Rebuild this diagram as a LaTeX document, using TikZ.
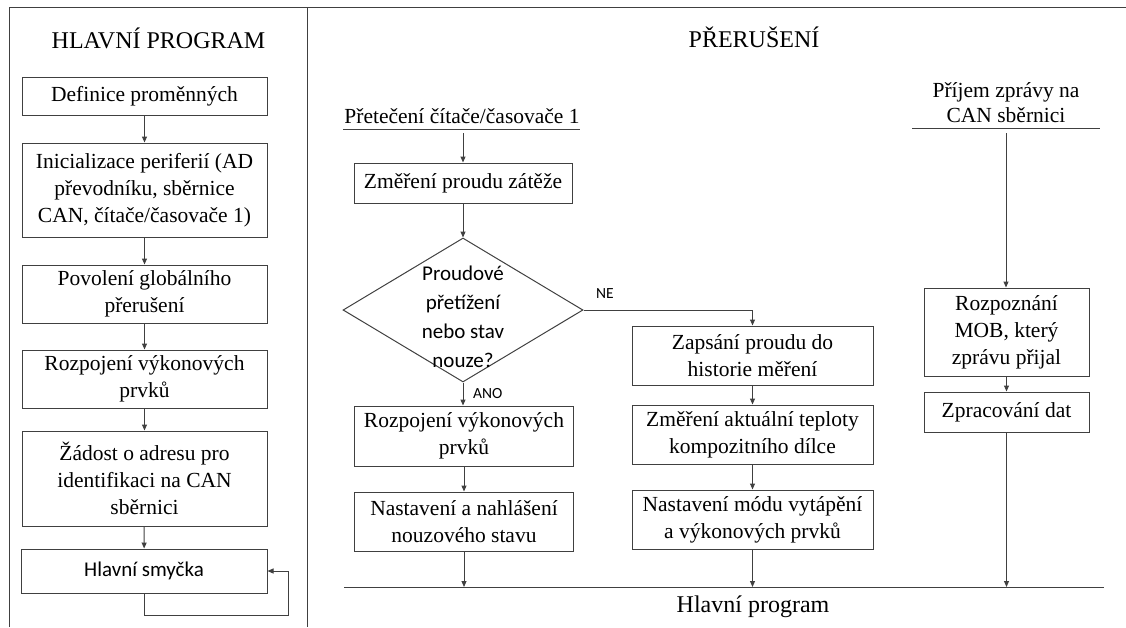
\documentclass[tikz,border=0pt]{standalone}
\usepackage{fontspec}
\setmainfont{Liberation Serif}
\newfontfamily\calib{Carlito}
\usetikzlibrary{arrows.meta,shapes.geometric}

\begin{document}
\begin{tikzpicture}[x=1pt,y=-1pt,
  ln/.style={draw=black!75, line width=1pt},
  box/.style={ln, align=center, inner sep=0pt,
    font=\fontsize{21.5}{27}\selectfont},
  cbox/.style={ln, align=center, inner sep=0pt,
    font=\calib\fontsize{21}{27}\selectfont},
  arr/.style={ln, -{Triangle[length=6pt,width=5pt]}},
  ttl/.style={anchor=base, inner sep=0pt, font=\fontsize{24}{28}\selectfont},
  capt/.style={align=center, inner sep=0pt, font=\fontsize{21.5}{25}\selectfont},
  lbl/.style={inner sep=0pt, font=\calib\fontsize{15.5}{18}\selectfont},
  dtext/.style={align=center, inner sep=0pt, font=\calib\fontsize{21}{29}\selectfont}
]
\useasboundingbox (0,0) rectangle (1126,627);

% frame of the two panels
\draw[ln] (9,627) -- (9,7) -- (1126,7);
\draw[ln] (307,7) -- (307,627);

% ---------- main program ----------
\node[ttl] (tmain) at (158.5,48) {HLAVNÍ PROGRAM};
\node[box, minimum width=245pt, minimum height=38pt] (L1) at (144.5,96) {Definice proměnných};
\node[box, minimum width=245pt, minimum height=94pt] (L2) at (144.5,190) {Inicializace periferií (AD\\převodníku, sběrnice\\CAN, čítače/časovače 1)};
\node[box, minimum width=245pt, minimum height=58pt] (L3) at (144.5,294) {Povolení globálního\\přerušení};
\node[box, minimum width=245pt, minimum height=58pt] (L4) at (144.5,379) {Rozpojení výkonových\\prvků};
\node[box, minimum width=245pt, minimum height=95pt] (L5) at (144.5,478.5) {Žádost o adresu pro\\identifikaci na CAN\\sběrnici};
\node[cbox, minimum width=246pt, minimum height=44pt] (L6) at (144,571) {Hlavní smyčka};
\coordinate (loopc) at (288,615);

\draw[arr] (L1) -- (L2);
\draw[arr] (L2) -- (L3);
\draw[arr] (L3) -- (L4);
\draw[arr] (L4) -- (L5);
\draw[arr] (L5) -- (L6);
\draw[arr] (L6.south) |- (loopc) |- (L6.east);

% ---------- interrupts ----------
\node[ttl] (tint) at (754,47) {PŘERUŠENÍ};

% timer overflow branch
\node[capt, anchor=base] (c1) at (462,123) {Přetečení čítače/časovače 1};
\coordinate (u1a) at (343,129);
\coordinate (u1b) at (580,129);
\draw[ln] (u1a) -- (u1b);
\coordinate (s1) at (463,133);
\node[box, minimum width=218pt, minimum height=40pt] (M1) at (463,183) {Změření proudu zátěže};
\node[ln, diamond, minimum width=240pt, minimum height=144pt, inner sep=0pt] (D) at (463,310) {};
\node[dtext] (Dt) at (463,317) {Proudové\\přetížení\\nebo stav\\nouze?};
\node[box, minimum width=219pt, minimum height=60pt] (R1) at (464,436) {Rozpojení výkonových\\prvků};
\node[box, minimum width=219pt, minimum height=59pt] (N1) at (464,521.5) {Nastavení a nahlášení\\nouzového stavu};

\node[box, minimum width=241pt, minimum height=59pt] (Z1) at (752.5,355.5) {Zapsání proudu do\\historie měření};
\node[box, minimum width=241pt, minimum height=59pt] (Z2) at (752.5,434.5) {Změření aktuální teploty\\kompozitního dílce};
\node[box, minimum width=241pt, minimum height=59pt] (Z3) at (752.5,519.5) {Nastavení módu vytápění\\a výkonových prvků};

\node[lbl] (ne) at (605,294) {NE};
\node[lbl, anchor=west] (ano) at (473,394) {ANO};

\draw[arr] (s1) -- (M1);
\draw[arr] (M1) -- (D.north);
\draw[arr] (D.south) -- (D.south |- R1.north);
\draw[arr] (R1) -- (N1);
\draw[arr] (D.east) -| (Z1.north);
\draw[arr] (Z1) -- (Z2);
\draw[arr] (Z2) -- (Z3);

% CAN message branch
\node[capt] (c2) at (1006,103) {Příjem zprávy na\\CAN sběrnici};
\coordinate (u2a) at (912,128);
\coordinate (u2b) at (1100,128);
\draw[ln] (u2a) -- (u2b);
\coordinate (s2) at (1006,133);
\node[box, minimum width=165pt, minimum height=88pt] (P1) at (1006.5,332) {Rozpoznání\\MOB, který\\zprávu přijal};
\node[box, minimum width=165pt, minimum height=40pt] (P2) at (1006.5,412) {Zpracování dat};
\draw[arr] (s2) -- (s2 |- P1.north);
\draw[arr] (P1) -- (P2);

% return to the main program
\coordinate (busL) at (344,587);
\coordinate (busR) at (1104,587);
\draw[ln] (busL) -- (busR);
\draw[arr] (N1.south) -- (N1.south |- busL);
\draw[arr] (Z3.south) -- (Z3.south |- busL);
\draw[arr] (P2.south) -- (P2.south |- busL);
\node[ttl] (back) at (753,612) {Hlavní program};

\end{tikzpicture}
\end{document}
